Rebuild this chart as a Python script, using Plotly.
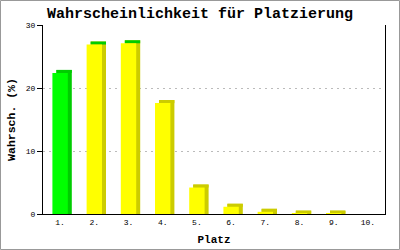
import plotly.graph_objects as go

places = [1, 2, 3, 4, 5, 6, 7, 8, 9, 10]
place_labels = ["1.", "2.", "3.", "4.", "5.", "6.", "7.", "8.", "9.", "10."]
probs = [22.4, 26.9, 27.1, 17.6, 4.2, 1.15, 0.35, 0.06, 0.06, 0.0]
front_colors = ["#00FF00"] + ["#FFFF00"] * 9
side_colors = ["#00CC00"] + ["#CCCC00"] * 9
top_colors = ["#00CC00"] * 3 + ["#CCCC00"] * 7

W, H = 400, 250
ml, mr, mt, mb = 43, 15, 25, 36
pw, ph = W - ml - mr, H - mt - mb
ymax = 30
bw = 0.45
dx = 4 / (pw / 10)
dy = 3 / (ph / ymax)

side_h = [(v + dy) if v > 0 else 0 for v in probs]
top_h = [dy if v > 0 else 0 for v in probs]

fig = go.Figure()
fig.add_bar(x=places, y=side_h, width=bw, offset=-bw / 2 + dx,
            marker=dict(color=side_colors, line=dict(width=0)), hoverinfo="skip")
fig.add_bar(x=places, y=top_h, base=probs, width=bw, offset=-bw / 2 + dx,
            marker=dict(color=top_colors, line=dict(width=0)), hoverinfo="skip")
fig.add_bar(x=places, y=probs, width=bw, offset=-bw / 2,
            marker=dict(color=front_colors, line=dict(width=0)))

mono = "Liberation Mono"
fig.update_layout(
    width=W, height=H, barmode="overlay", showlegend=False,
    margin=dict(l=ml, r=mr, t=mt, b=mb, autoexpand=False),
    paper_bgcolor="white", plot_bgcolor="white",
    title=dict(text="<b>Wahrscheinlichkeit für Platzierung</b>",
               font=dict(family=mono, size=15, color="black"),
               x=0.5, xanchor="center", y=1 - 13 / H, yanchor="middle", yref="container"),
    xaxis=dict(range=[0.5, 10.5], tickvals=places, ticktext=place_labels,
               showline=True, linecolor="black", linewidth=1, ticks="",
               showgrid=False, zeroline=False, automargin=False,
               tickfont=dict(family=mono, size=8, color="black"),
               title=dict(text="<b>Platz</b>", font=dict(family=mono, size=11, color="black"),
                          standoff=9)),
    yaxis=dict(range=[0, ymax], tickvals=[0, 10, 20, 30],
               showline=True, mirror=True, linecolor="black", linewidth=1,
               ticks="outside", ticklen=5, tickcolor="black",
               showgrid=True, gridcolor="#BBBBBB", griddash="2px,4px", gridwidth=1,
               zeroline=False, automargin=False,
               tickfont=dict(family=mono, size=8, color="black"),
               title=dict(text="<b>Wahrsch. (%)</b>", font=dict(family=mono, size=11.5, color="black"),
                          standoff=7)),
)

fig.add_shape(type="rect", xref="paper", yref="paper",
              x0=(0.5 - ml) / pw, x1=(W - 0.5 - ml) / pw,
              y0=(mt + ph - (H - 0.5)) / ph, y1=(mt + ph - 0.5) / ph,
              line=dict(color="#999999", width=1), fillcolor="rgba(0,0,0,0)", layer="above")

fig.write_html("out.html")
